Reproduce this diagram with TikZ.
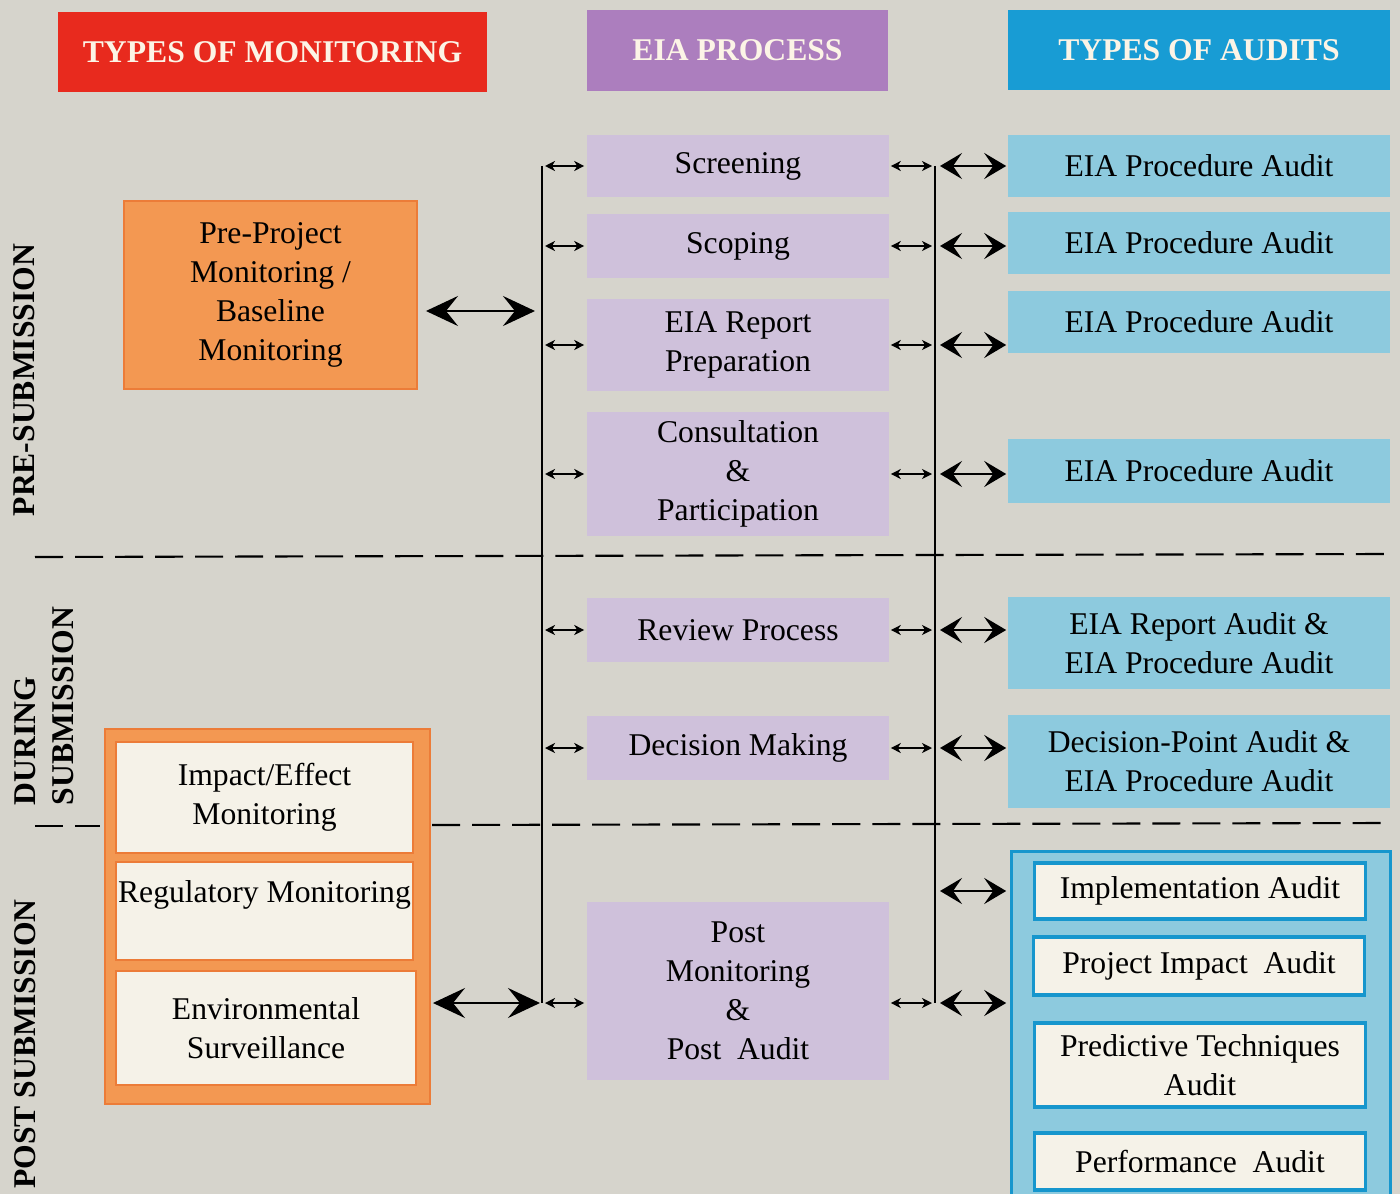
\documentclass[tikz,border=0pt]{standalone}
\usepackage{fontspec}
\setmainfont{Liberation Serif}
\usetikzlibrary{arrows.meta,calc}

\definecolor{paper}{RGB}{214,212,204}
\definecolor{monred}{RGB}{232,42,30}
\definecolor{eiapurple}{RGB}{172,126,190}
\definecolor{auditblue}{RGB}{24,156,212}
\definecolor{lilac}{RGB}{207,193,219}
\definecolor{skyblue}{RGB}{141,202,222}
\definecolor{monorange}{RGB}{243,152,82}
\definecolor{orangeline}{RGB}{236,124,56}
\definecolor{blueline}{RGB}{22,150,205}
\definecolor{cream}{RGB}{245,242,232}
\definecolor{headtext}{RGB}{252,244,230}

\begin{document}
\begin{tikzpicture}[x=0.01cm, y=-0.01cm,
        every node/.style={font=\fontsize{9}{11.1}\selectfont, align=center, inner sep=0pt},
        header/.style={font=\fontsize{9}{11}\selectfont\bfseries, text=headtext},
        stage/.style={fill=lilac, minimum width=3.02cm},
        audit/.style={fill=skyblue, minimum width=3.82cm},
        inbox/.style={fill=cream, draw=orangeline, line width=0.5pt},
        abox/.style={fill=cream, draw=blueline, line width=0.9pt, minimum width=3.31cm},
        phase/.style={rotate=90, font=\fontsize{9}{10.8}\selectfont\bfseries},
        bus/.style={line width=0.45pt},
        divider/.style={line width=0.6pt, dash pattern=on 0.28cm off 0.12cm},
        smallarrow/.style={line width=0.4pt, {Stealth[length=1mm,width=1mm,inset=0.3mm]}-{Stealth[length=1mm,width=1mm,inset=0.3mm]}},
        midarrow/.style={line width=0.7pt, {Stealth[length=2.2mm,width=2.6mm,inset=0.9mm]}-{Stealth[length=2.2mm,width=2.6mm,inset=0.9mm]}},
        bigarrow/.style={line width=0.7pt, {Stealth[length=3.2mm,width=3mm,inset=1.2mm]}-{Stealth[length=3.2mm,width=3mm,inset=1.2mm]}}]
        \useasboundingbox[fill=paper] (0,0) rectangle (1400,1194);

        \node[header, fill=monred, minimum width=4.29cm, minimum height=0.8cm] (hmon) at (272.5,52) {TYPES OF MONITORING};
        \node[header, fill=eiapurple, minimum width=3.01cm, minimum height=0.81cm] (heia) at (737.5,50.5) {EIA PROCESS};
        \node[header, fill=auditblue, minimum width=3.82cm, minimum height=0.8cm] (haud) at (1199,50) {TYPES OF AUDITS};

        \node[stage, minimum height=0.62cm] (scr) at (738,166) {Screening};
        \node[stage, minimum height=0.64cm] (sco) at (738,246) {Scoping};
        \node[stage, minimum height=0.91cm] (rep) at (738,345) {EIA Report\\Preparation};
        \node[stage, minimum height=1.24cm] (con) at (738,474) {Consultation\\\&\\Participation};
        \node[stage, minimum height=0.63cm] (rev) at (738,630) {Review Process};
        \node[stage, minimum height=0.63cm] (dec) at (738,748) {Decision Making};
        \node[stage, minimum height=1.77cm] (post) at (738,991) {Post\\Monitoring\\\&\\Post\ \ Audit};

        \node[audit, minimum height=0.62cm] (a1) at (1199,166) {EIA Procedure Audit};
        \node[audit, minimum height=0.61cm] (a2) at (1199,243) {EIA Procedure Audit};
        \node[audit, minimum height=0.61cm] (a3) at (1199,322) {EIA Procedure Audit};
        \node[audit, minimum height=0.63cm] (a4) at (1199,471) {EIA Procedure Audit};
        \node[audit, minimum height=0.92cm] (a5) at (1199,643) {EIA Report Audit \&\\EIA Procedure Audit};
        \node[audit, minimum height=0.93cm] (a6) at (1199,761.5) {Decision-Point Audit \&\\EIA Procedure Audit};

        \node[fill=skyblue, minimum width=3.78cm, minimum height=3.42cm] (audits) at (1201,1023) {};
        \draw[blueline, line width=0.9pt] (audits.south west) -- (audits.north west) -- (audits.north east) -- (audits.south east);
        \node[abox, minimum height=0.56cm] (impl) at (1200,891) {Implementation Audit};
        \node[abox, minimum height=0.58cm] (proj) at (1199,966) {Project Impact\ \ Audit};
        \node[abox, minimum height=0.84cm] (pred) at (1200,1065) {Predictive Techniques\\Audit};
        \node[abox, minimum height=0.57cm] (perf) at (1200,1161.5) {Performance\ \ Audit};

        \node[fill=monorange, draw=orangeline, line width=0.5pt, minimum width=2.93cm, minimum height=1.88cm] (pre) at (270.5,295) {Pre-Project\\Monitoring /\\Baseline\\Monitoring};
        \node[fill=monorange, draw=orangeline, line width=0.5pt, minimum width=3.25cm, minimum height=3.75cm] (mon) at (267.5,916.5) {};
        \node[inbox, minimum width=2.97cm, minimum height=1.11cm] (imp) at (264.5,797.5) {Impact/Effect\\Monitoring};
        \node[inbox, minimum width=2.97cm, minimum height=0.98cm] (reg) at (264.5,911) {Regulatory Monitoring\\\mbox{}};
        \node[inbox, minimum width=3cm, minimum height=1.14cm] (env) at (266,1028) {Environmental\\Surveillance};

        \node[phase] (presub) at (24,380) {PRE-SUBMISSION};
        \node[phase, align=left, anchor=west] (dursub) at (44,806) {DURING\\SUBMISSION};
        \node[phase] (postsub) at (25,1044) {POST SUBMISSION};

        \draw[divider] (35,557) -- (1388,554);
        \draw[divider] (35,826) -- (100,826);
        \draw[divider] (432,825) -- (1388,823);

        \coordinate (ltop) at (542,166);
        \coordinate (lbot) at (542,1003);
        \coordinate (rtop) at (935,166);
        \coordinate (rbot) at (935,1003);
        \draw[bus] (ltop) -- (lbot);
        \draw[bus] (rtop) -- (rbot);

        \foreach \s/\a in {scr/a1, sco/a2, rep/a3, con/a4, rev/a5, dec/a6} {
            \draw[smallarrow, shorten <=0.03cm, shorten >=0.02cm] (\s.west -| ltop) -- (\s.west);
            \draw[smallarrow, shorten <=0.01cm, shorten >=0.03cm] (\s.east) -- (\s.east -| rtop);
            \draw[midarrow, shorten <=0.05cm, shorten >=0.01cm] (\s.east -| rtop) -- (\s.east -| \a.west);
        }
        \draw[smallarrow, shorten <=0.03cm, shorten >=0.02cm] (lbot) -- (post.west |- lbot);
        \draw[smallarrow, shorten <=0.01cm, shorten >=0.03cm] (post.east |- rbot) -- (rbot);
        \draw[midarrow, shorten <=0.05cm, shorten >=0.05cm] (rbot) -- (audits.west |- rbot);
        \draw[midarrow, shorten <=0.05cm, shorten >=0.05cm] (impl.west -| rbot) -- (impl.west -| audits.west);

        \draw[bigarrow, shorten <=0.08cm, shorten >=0.07cm] ($(pre.east)+(0,16)$) -- ($(pre.east -| ltop)+(0,16)$);
        \draw[bigarrow, shorten <=0.02cm, shorten >=0.02cm] (mon.east |- lbot) -- (lbot);
    \end{tikzpicture}
\end{document}
